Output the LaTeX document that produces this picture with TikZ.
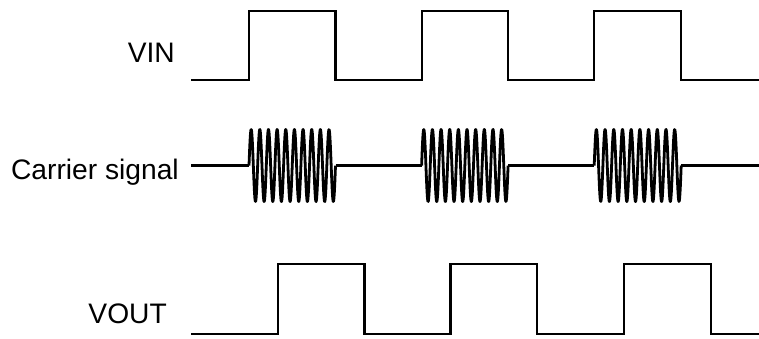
\documentclass[tikz,border=0pt]{standalone}
\usepackage{fontspec}
\setmainfont{Liberation Sans}
\begin{document}
\begin{tikzpicture}[x=1pt,y=-1pt,
  wave/.style={line width=2.2pt},
  carrier/.style={line width=2.8pt,line join=round},
  lbl/.style={anchor=base east,inner sep=0pt,font=\fontsize{28.2}{32}\selectfont}]
\useasboundingbox (0,0) rectangle (759,338);
% labels
\node[lbl] (vin) at (175,62.5) {VIN};
\node[lbl] (car) at (179,179) {Carrier signal};
\node[lbl] (vout) at (167,323.5) {VOUT};
% VIN
\draw[wave] (191,80) -- (249,80) -- (249,11) -- (335.5,11) -- (335.5,80)
  -- (421.6,80) -- (421.6,11) -- (508.1,11) -- (508.1,80)
  -- (594.2,80) -- (594.2,11) -- (681.2,11) -- (681.2,80) -- (759,80);
% Carrier
\draw[wave] (191,165.5) -- (249,165.5);
\draw[carrier] plot[domain=0:86.5,samples=500] ({249+\x},{165.5-36*sin(\x/8.65*360)});
\draw[wave] (335.5,165.5) -- (421.6,165.5);
\draw[carrier] plot[domain=0:86.5,samples=500] ({421.6+\x},{165.5-36*sin(\x/8.65*360)});
\draw[wave] (508.1,165.5) -- (594.2,165.5);
\draw[carrier] plot[domain=0:87,samples=500] ({594.2+\x},{165.5-36*sin(\x/8.7*360)});
\draw[wave] (681.2,165.5) -- (759,165.5);
% VOUT
\draw[wave] (191,334) -- (278.3,334) -- (278.3,264) -- (364.5,264) -- (364.5,334)
  -- (450.5,334) -- (450.5,264) -- (537.3,264) -- (537.3,334)
  -- (624.3,334) -- (624.3,264) -- (710.7,264) -- (710.7,334) -- (759,334);
\end{tikzpicture}
\end{document}
